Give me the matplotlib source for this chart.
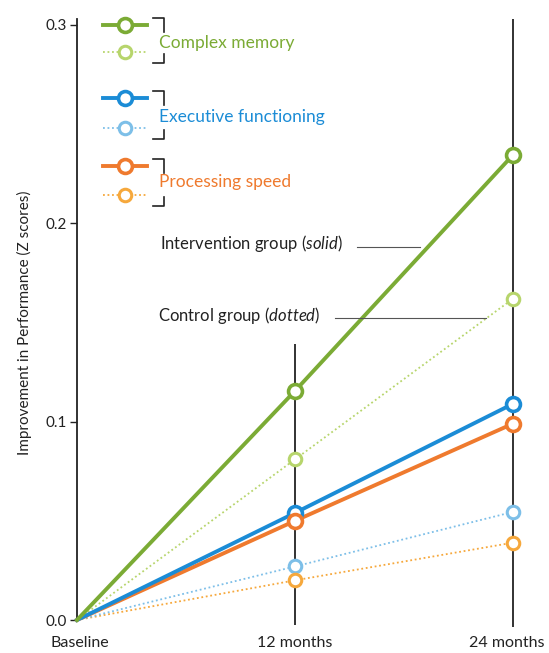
import numpy as np
import matplotlib
matplotlib.use("Agg")
import matplotlib.pyplot as plt
from matplotlib.lines import Line2D
from matplotlib.transforms import ScaledTranslation

plt.rcParams['font.family'] = ['Lato', 'DejaVu Sans']
plt.rcParams['mathtext.fontset'] = 'custom'
plt.rcParams['mathtext.rm'] = 'Lato'
plt.rcParams['mathtext.it'] = 'Lato:italic'

timepoints = ["Baseline", "12 months", "24 months"]
xpos = np.array([0, 1, 2])

series_names = ["Complex memory", "Executive functioning", "Processing speed"]
intervention = {
    "Complex memory": [0.0, 0.1155, 0.2345],
    "Executive functioning": [0.0, 0.054, 0.109],
    "Processing speed": [0.0, 0.050, 0.099],
}
control = {
    "Complex memory": [0.0, 0.081, 0.162],
    "Executive functioning": [0.0, 0.027, 0.0545],
    "Processing speed": [0.0, 0.020, 0.039],
}
yticks = [0.0, 0.1, 0.2, 0.3]

solid_col = {"Complex memory": "#7bab35", "Executive functioning": "#1b8cd6", "Processing speed": "#ef7a2e"}
dot_col = {"Complex memory": "#b7d56c", "Executive functioning": "#7dbfe8", "Processing speed": "#f6a83c"}

W, H = 549, 653
fig = plt.figure(figsize=(W / 100, H / 100), dpi=100)
ax = fig.add_axes([77 / W, (H - 620) / H, (513 - 77) / W, (620 - 25) / H])
ax.set_xlim(0, 2)
ax.set_ylim(0, 0.3)

# vertical guide lines at 12 and 24 months
ax.vlines(1, -0.0025, 0.139, color="#222222", lw=1.3, clip_on=False, zorder=1)
ax.vlines(2, -0.0035, 0.303, color="#222222", lw=1.3, clip_on=False, zorder=1)

for name in series_names[::-1]:
    ax.plot(xpos, control[name], ls=(0, (1, 1.5)), lw=1.3, color=dot_col[name], zorder=2, clip_on=False)
for name in series_names[::-1]:
    ax.plot(xpos, intervention[name], ls="-", lw=2.8, color=solid_col[name], zorder=3, clip_on=False)

for name in series_names:
    ax.plot(xpos[1:], control[name][1:], ls="none", marker="o", ms=9, mew=2.2,
            mfc="white", mec=dot_col[name], zorder=4, clip_on=False)
    ax.plot(xpos[1:], intervention[name][1:], ls="none", marker="o", ms=10, mew=2.6,
            mfc="white", mec=solid_col[name], zorder=5, clip_on=False)

for s in ["top", "right", "bottom"]:
    ax.spines[s].set_visible(False)
ax.spines["left"].set_color("#222222")
ax.spines["left"].set_linewidth(1.3)
ax.spines["left"].set_bounds(0, 0.303)

ax.set_yticks(yticks)
ax.set_yticklabels([f"{v:.1f}" for v in yticks], fontsize=11, color="#222222")
ax.tick_params(axis="y", length=5, width=1, color="#222222", pad=2)
ax.set_xticks(xpos)
ax.set_xticklabels(timepoints, fontsize=11.5, color="#222222")
ax.tick_params(axis="x", length=0, pad=10)
# nudge the outer labels like the original
shifts = [3, 0, -6]
for lab, dx in zip(ax.get_xticklabels(), shifts):
    lab.set_transform(lab.get_transform() + ScaledTranslation(dx / 100, -2 / 100, fig.dpi_scale_trans))
ax.set_ylabel("Improvement in Performance (Z scores)", fontsize=11, color="#222222", labelpad=10)

# legend drawn by hand in pixel space
def px(x, y):
    return x / W, 1 - y / H

legend_rows = [("Complex memory", 25, 52, 43), ("Executive functioning", 98, 128, 117),
               ("Processing speed", 166, 195, 182)]
for name, y0, y1, yt in legend_rows:
    xa = px(103, 0)[0]
    xb = px(147, 0)[0]
    xm = px(125, 0)[0]
    ys = px(0, y0)[1]
    yd = px(0, y1)[1]
    fig.add_artist(Line2D([xa, xb], [ys, ys], lw=2.8, color=solid_col[name]))
    fig.add_artist(Line2D([xm], [ys], marker="o", ms=10, mew=2.6,
                          mfc="white", mec=solid_col[name], ls="none"))
    fig.add_artist(Line2D([xa, xb], [yd, yd], lw=1.3, ls=(0, (1, 1.5)), color=dot_col[name]))
    fig.add_artist(Line2D([xm], [yd], marker="o", ms=9, mew=2.2,
                          mfc="white", mec=dot_col[name], ls="none"))
    # bracket
    bx0 = px(153, 0)[0]
    bx1 = px(164, 0)[0]
    for ya, yb in [(y0 - 7, y0 + 7), (y1 + 11, y1 + 2)]:
        fig.add_artist(Line2D([bx0, bx1, bx1], [px(0, ya)[1], px(0, ya)[1], px(0, yb)[1]],
                              lw=1.2, color="#222222"))
    fig.text(px(159, 0)[0], px(0, yt)[1], name, color=solid_col[name],
             fontsize=12.5, va="center", ha="left")

# annotations
fig.text(px(160, 0)[0], px(0, 244)[1], "Intervention group ($\\it{solid}$)", fontsize=12,
         color="#222222", va="center")
fig.add_artist(Line2D([px(357, 0)[0], px(420, 0)[0]], [px(0, 247)[1]] * 2, lw=0.8, color="#555555"))
fig.text(px(158, 0)[0], px(0, 316)[1], "Control group ($\\it{dotted}$)", fontsize=12,
         color="#222222", va="center")
fig.add_artist(Line2D([px(335, 0)[0], px(486, 0)[0]], [px(0, 318)[1]] * 2, lw=0.8, color="#555555"))

fig.savefig("out.png", dpi=100)
